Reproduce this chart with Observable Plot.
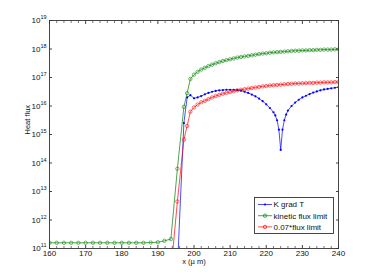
<!DOCTYPE html>
<html><head><meta charset="utf-8">
<script src="https://cdn.jsdelivr.net/npm/d3@7"></script>
<script src="https://cdn.jsdelivr.net/npm/@observablehq/plot@0.6"></script>
<style>
body{margin:0;background:#fff;font-family:"Liberation Sans",Arial,sans-serif;}
#wrap{position:relative;width:374px;height:279px;}
#legend{position:absolute;left:254px;top:197px;}
</style></head>
<body><div id="wrap"></div>
<script>
// x grids (µm) and log10 of heat flux values
const greenX = [160,162,164,166,168,170,172,174,176,178,180,182,184,186,188,190,191.8,193.6,195.4,197.2,198.1,
  199,200,201,202,203,204,205,206,207,208,209,210,211,212,213,214,215,216,217,218,219,220,
  221,222,223,224,225,226,227,228,229,230,231,232,233,234,235,236,237,238,239,240];
const greenE = [11.2,11.2,11.2,11.2,11.2,11.2,11.2,11.2,11.2,11.2,11.2,11.2,11.2,11.2,11.21,11.22,11.27,11.33,13.8,15.97,16.45,
  16.95,17.1,17.2,17.28,17.34,17.4,17.45,17.5,17.54,17.58,17.61,17.64,17.67,17.7,17.72,17.74,17.76,17.78,17.8,17.82,17.84,17.85,
  17.87,17.88,17.89,17.9,17.91,17.92,17.93,17.94,17.94,17.95,17.95,17.96,17.96,17.97,17.97,17.98,17.98,17.98,17.99,17.99];

const redX = [193.6,195.4,197.2,198.1,
  199,200,201,202,203,204,205,206,207,208,209,210,211,212,213,214,215,216,217,218,219,220,
  221,222,223,224,225,226,227,228,229,230,231,232,233,234,235,236,237,238,239,240];
const redE = [10.18,12.65,14.82,15.3,
  15.8,15.95,16.05,16.13,16.18,16.24,16.3,16.35,16.39,16.43,16.46,16.49,16.52,16.55,16.57,16.59,16.61,16.63,16.65,16.67,16.69,16.7,
  16.72,16.73,16.74,16.75,16.76,16.77,16.78,16.79,16.79,16.8,16.8,16.81,16.81,16.82,16.82,16.83,16.83,16.83,16.84,16.84];

const blueX = [195.4,197.2,198.1,199,200,201,202,203,204,205,206,207,208,209,210,211,212,213,214,215,216,217,218,219,220,
  221,222,222.5,223,223.5,224,224.5,225,225.5,226,227,228,229,230,231,232,233,234,235,236,237,238,239,240];
const blueE = [10.3,15.4,16.3,16.38,16.27,16.3,16.35,16.41,16.46,16.5,16.53,16.55,16.56,16.57,16.57,16.57,16.56,16.54,16.5,16.46,16.4,16.34,16.26,16.17,16.06,
  15.93,15.78,15.67,15.5,15.17,14.46,15.17,15.5,15.7,15.84,16.0,16.12,16.22,16.3,16.36,16.42,16.47,16.51,16.55,16.58,16.6,16.62,16.64,16.66];

const xMajor = [160,170,180,190,200,210,220,230,240];
const xMinor = [162,164,166,168,172,174,176,178,182,184,186,188,192,194,196,198,202,204,206,208,212,214,216,218,222,224,226,228,232,234,236,238];
const yTicks = [1e11,1e12,1e13,1e14,1e15,1e16,1e17,1e18,1e19];

const series = [
  {name: "K grad T", color: "#0000ff", xs: blueX, es: blueE, symbol: "dot"},
  {name: "kinetic flux limit", color: "#008000", xs: greenX, es: greenE, symbol: "circle"},
  {name: "0.07*flux limit", color: "#ff0000", xs: redX, es: redE, symbol: "circle"}
];
const rows = s => s.xs.map((x, i) => ({x, y: Math.pow(10, s.es[i])}));

const marks = [];
for (const s of series) {
  const d = rows(s);
  marks.push(Plot.line(d, {x: "x", y: "y", stroke: s.color, strokeWidth: 0.7, clip: true}));
  if (s.symbol === "dot") marks.push(Plot.dot(d, {x: "x", y: "y", r: 1.1, fill: s.color, clip: true}));
  else marks.push(Plot.dot(d, {x: "x", y: "y", r: 1.7, stroke: s.color, strokeWidth: 0.7, strokeOpacity: 0.8, fill: "none", clip: true}));
}

const chart = Plot.plot({
  width: 374, height: 279,
  marginLeft: 49, marginRight: 36, marginTop: 20, marginBottom: 31,
  style: {fontFamily: "'Liberation Sans', Arial, sans-serif", fontSize: "8px", background: "white", color: "#111"},
  x: {domain: [160, 240]},
  y: {type: "log", domain: [1e11, 1e19]},
  marks: [
    Plot.axisX({ticks: xMajor, tickSize: 0, tickPadding: 2, label: null, fontSize: 8}),
    Plot.axisX({anchor: "bottom", ticks: xMajor, tickSize: -3, tickFormat: () => "", label: null, stroke: "#444"}),
    Plot.axisX({anchor: "bottom", ticks: xMinor, tickSize: -2, tickFormat: () => "", label: null, stroke: "#777"}),
    Plot.axisX({anchor: "top", ticks: xMajor, tickSize: -3, tickFormat: () => "", label: null, stroke: "#444"}),
    Plot.axisX({anchor: "top", ticks: xMinor, tickSize: -2, tickFormat: () => "", label: null, stroke: "#777"}),
    Plot.axisY({anchor: "left", ticks: yTicks, tickSize: 0, tickPadding: 3, tickFormat: d => String(Math.round(Math.log10(d))), label: null}),
    Plot.axisY({anchor: "left", ticks: yTicks, tickSize: -3, tickFormat: () => "", label: null, stroke: "#444"}),
    Plot.axisY({anchor: "right", ticks: yTicks, tickSize: -3, tickFormat: () => "", label: null, stroke: "#444"}),
    ...marks,
    Plot.frame({stroke: "#333", strokeWidth: 0.9}),
    Plot.text(["Heat flux"], {text: d => d, frameAnchor: "left", dx: -22, rotate: -90, fontSize: 7.5}),
    Plot.text(["x (\u00b5 m)"], {text: d => d, frameAnchor: "bottom", dy: 15.5, fontSize: 7.5})
  ]
});

// superscript exponents on the log axis labels
chart.querySelectorAll('g[aria-label="y-axis tick label"] text').forEach(t => {
  const e = t.textContent;
  if (!e) return;
  t.textContent = "";
  const ns = "http://www.w3.org/2000/svg";
  const a = document.createElementNS(ns, "tspan"); a.textContent = "10";
  const b = document.createElementNS(ns, "tspan"); b.textContent = e;
  b.setAttribute("dy", "-4"); b.setAttribute("font-size", "5.5");
  t.appendChild(a); t.appendChild(b);
});

const wrap = document.getElementById("wrap");
wrap.appendChild(chart);

// legend box inside the plot
const lw = 79, lh = 36;
const leg = d3.create("svg").attr("id", "legend").attr("width", lw + 1).attr("height", lh + 1)
  .style("font-family", "'Liberation Sans', Arial, sans-serif").style("font-size", "8px");
leg.append("rect").attr("x", 0.5).attr("y", 0.5).attr("width", lw).attr("height", lh)
  .attr("fill", "white").attr("stroke", "#333").attr("stroke-width", 0.9);
series.forEach((s, i) => {
  const cy = 7.5 + i * 11.2;
  leg.append("line").attr("x1", 4).attr("x2", 18).attr("y1", cy).attr("y2", cy).attr("stroke", s.color).attr("stroke-width", 0.7);
  if (s.symbol === "dot") leg.append("circle").attr("cx", 11).attr("cy", cy).attr("r", 1.1).attr("fill", s.color);
  else leg.append("circle").attr("cx", 11).attr("cy", cy).attr("r", 1.7).attr("fill", "none").attr("stroke", s.color).attr("stroke-width", 0.7);
  leg.append("text").attr("x", 19.5).attr("y", cy).attr("dy", "0.35em").attr("fill", "#111").text(s.name);
});
wrap.appendChild(leg.node());
</script>
</body></html>
